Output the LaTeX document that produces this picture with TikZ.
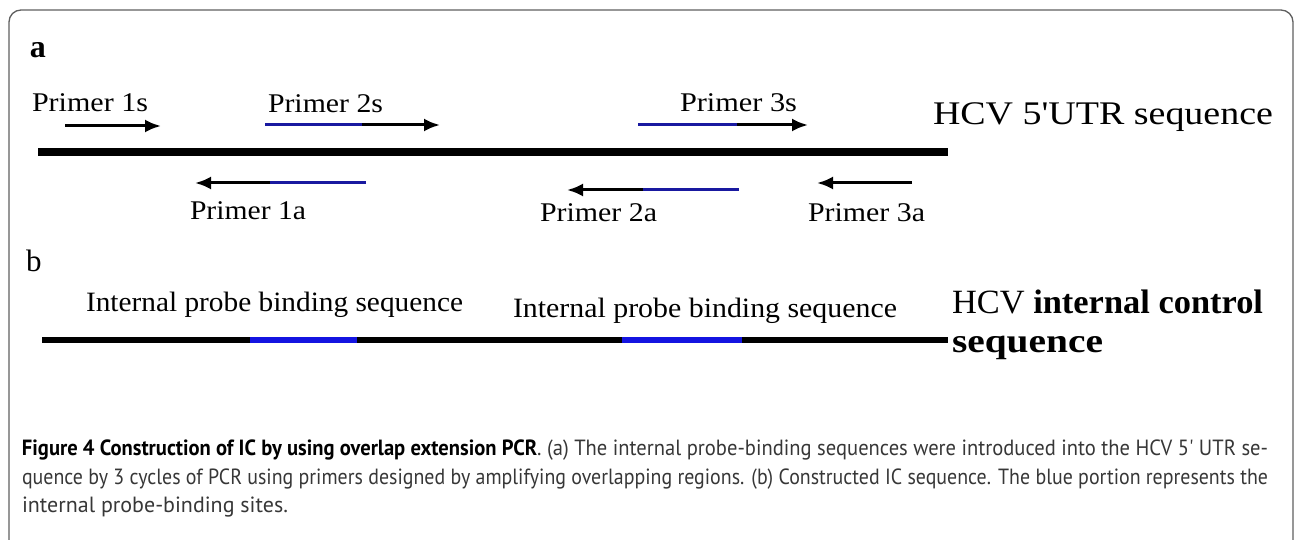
\documentclass[tikz,border=0pt]{standalone}
\usepackage{fontspec}
\setmainfont{Liberation Serif}
\newfontfamily\capfont{PT Sans}
\usetikzlibrary{arrows.meta}
\definecolor{pblue}{RGB}{25,25,160}
\definecolor{sblue}{RGB}{20,20,225}
\definecolor{framegray}{RGB}{95,95,95}
\definecolor{capgray}{RGB}{55,55,55}
\newcommand\fitw[2]{\resizebox{#1}{\height}{#2}}
\begin{document}
\begin{tikzpicture}[x=1pt,y=-1pt,
  lbl/.style={anchor=base west,inner sep=0pt,outer sep=0pt},
  pfont/.style={font=\fontsize{27}{27}\selectfont},
  strand/.style={line width=8pt,black},
  icstrand/.style={line width=6pt,black},
  icblue/.style={line width=6pt,sblue},
  bluepart/.style={line width=3pt,pblue},
  blackpart/.style={line width=3pt,black,-{Latex[length=16pt,width=13pt]}},
  capline/.style={lbl,font=\capfont\fontsize{22}{22}\selectfont,text=capgray}]
\useasboundingbox (0,0) rectangle (1294,540);
\draw[framegray,line width=1.3pt,rounded corners=12pt] (9,560) -- (9,10) -- (1293,10) -- (1293,560);

% panel a
\node[lbl,font=\fontsize{32}{32}\selectfont\bfseries] (la) at (30,58) {a};
\node[lbl,pfont] (t1s) at (32,112) {\fitw{116pt}{Primer 1s}};
\node[lbl,pfont] (t2s) at (268,113) {\fitw{115pt}{Primer 2s}};
\node[lbl,pfont] (t3s) at (680,112) {\fitw{117pt}{Primer 3s}};
\node[lbl,font=\fontsize{33}{33}\selectfont] (thcv) at (933,125) {\fitw{340pt}{HCV 5\textquotesingle UTR sequence}};
\node[lbl,pfont] (t1a) at (190,220) {\fitw{116pt}{Primer 1a}};
\node[lbl,pfont] (t2a) at (540,222) {\fitw{117pt}{Primer 2a}};
\node[lbl,pfont] (t3a) at (808,222) {\fitw{117pt}{Primer 3a}};

\coordinate (ma) at (38,152);
\coordinate (mb) at (948,152);
\draw[strand] (ma) -- (mb);

\coordinate (p1s0) at (65,126);
\coordinate (p1s1) at (161,126);
\draw[blackpart] (p1s0) -- (p1s1);

\coordinate (p2s0) at (265,125);
\coordinate (p2s1) at (362,125);
\coordinate (p2s2) at (440,125);
\draw[bluepart] (p2s0) -- (p2s1);
\draw[blackpart] (p2s1) -- (p2s2);

\coordinate (p3s0) at (638,125);
\coordinate (p3s1) at (737,125);
\coordinate (p3s2) at (808,125);
\draw[bluepart] (p3s0) -- (p3s1);
\draw[blackpart] (p3s1) -- (p3s2);

\coordinate (p1a0) at (366,183);
\coordinate (p1a1) at (270,183);
\coordinate (p1a2) at (195,183);
\draw[bluepart] (p1a0) -- (p1a1);
\draw[blackpart] (p1a1) -- (p1a2);

\coordinate (p2a0) at (739,190);
\coordinate (p2a1) at (643,190);
\coordinate (p2a2) at (567,190);
\draw[bluepart] (p2a0) -- (p2a1);
\draw[blackpart] (p2a1) -- (p2a2);

\coordinate (p3a0) at (912,183);
\coordinate (p3a1) at (817,183);
\draw[blackpart] (p3a0) -- (p3a1);

% panel b
\node[lbl,font=\fontsize{31}{31}\selectfont] (lb) at (26,272) {b};
\node[lbl,font=\fontsize{28}{28}\selectfont] (ipb1) at (86,312) {\fitw{377pt}{Internal probe binding sequence}};
\node[lbl,font=\fontsize{28}{28}\selectfont] (ipb2) at (513,318) {\fitw{384pt}{Internal probe binding sequence}};
\node[lbl,font=\fontsize{34}{34}\selectfont] (tic1) at (952,313) {\fitw{311pt}{HCV \textbf{internal control}}};
\node[lbl,font=\fontsize{34}{34}\selectfont\bfseries] (tic2) at (952,352) {\fitw{151pt}{sequence}};

\coordinate (ica) at (42,340);
\coordinate (icb) at (948,340);
\coordinate (bl1a) at (250,340);
\coordinate (bl1b) at (357,340);
\coordinate (bl2a) at (622,340);
\coordinate (bl2b) at (742,340);
\draw[icstrand] (ica) -- (icb);
\draw[icblue] (bl1a) -- (bl1b);
\draw[icblue] (bl2a) -- (bl2b);

% caption
\node[capline] (cap1) at (22,455) {\fitw{1246pt}{\textbf{\color{black}Figure 4 Construction of IC by using overlap extension PCR}. (a) The internal probe-binding sequences were introduced into the HCV 5\textquotesingle{} UTR se-}};
\node[capline] (cap2) at (22,484) {\fitw{1246pt}{quence by 3 cycles of PCR using primers designed by amplifying overlapping regions. (b) Constructed IC sequence. The blue portion represents the}};
\node[capline] (cap3) at (22,512) {internal probe-binding sites.};
\end{tikzpicture}
\end{document}
